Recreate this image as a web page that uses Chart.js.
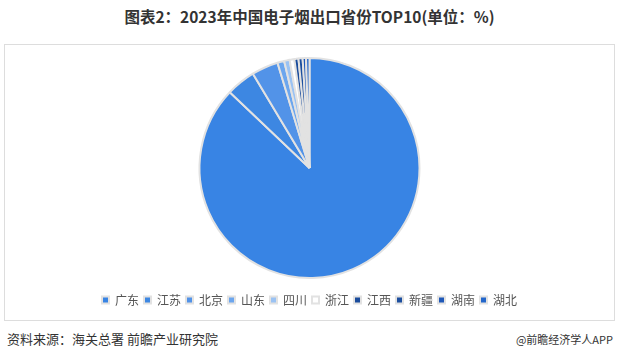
<!DOCTYPE html>
<html>
<head>
<meta charset="utf-8">
<script src="https://cdn.jsdelivr.net/npm/chart.js@4"></script>
<style>
  body { margin: 0; width: 619px; height: 361px; background: #fff; font-family: "Noto Sans CJK SC", sans-serif; position: relative; overflow: hidden; }
  #title { position: absolute; left: 0; top: 5px; width: 619px; text-align: center; font-size: 15.5px; font-weight: bold; color: #333; }
  #box { position: absolute; left: 4px; top: 44px; width: 609px; height: 275px; border: 1px solid #ddd; }
  #src { position: absolute; left: 7px; top: 329px; font-size: 13px; color: #333; }
  #app { position: absolute; right: 6px; top: 331px; font-size: 11px; color: #333; }
</style>
</head>
<body>
<div id="title">图表2：2023年中国电子烟出口省份TOP10(单位：%)</div>
<div id="box"><canvas id="myChart" width="609" height="275"></canvas></div>
<div id="src">资料来源：海关总署 前瞻产业研究院</div>
<div id="app">@前瞻经济学人APP</div>
<script>
// 省份和占比 (估计值)
const provinces = ['广东', '江苏', '北京', '山东', '四川', '浙江', '江西', '新疆', '湖南', '湖北'];
const shares = [87.1, 4.3, 3.9, 1.0, 0.8, 0.7, 0.6, 0.6, 0.5, 0.5];
const colors = ['#3884e4', '#3d87e2', '#5293e8', '#6ca6ee', '#9ac2f3', '#ffffff', '#1a4c9c', '#1d4f9f', '#1f58b8', '#2366cb'];

const chartElement = document.getElementById('myChart');
new Chart(chartElement, {
  type: 'pie',
  data: {
    labels: provinces,
    datasets: [{
      data: shares,
      backgroundColor: colors,
      borderColor: '#e2e2e2',
      borderWidth: 2
    }]
  },
  options: {
    responsive: false,
    animation: false,
    radius: 110,
    layout: { padding: { top: 2, bottom: 4 } },
    plugins: {
      tooltip: { enabled: false },
      legend: {
        position: 'bottom',
        labels: {
          boxWidth: 7,
          boxHeight: 7,
          padding: 5,
          color: '#555',
          font: { size: 12, family: '"Noto Sans CJK SC", sans-serif' }
        }
      }
    }
  }
});
</script>
</body>
</html>
